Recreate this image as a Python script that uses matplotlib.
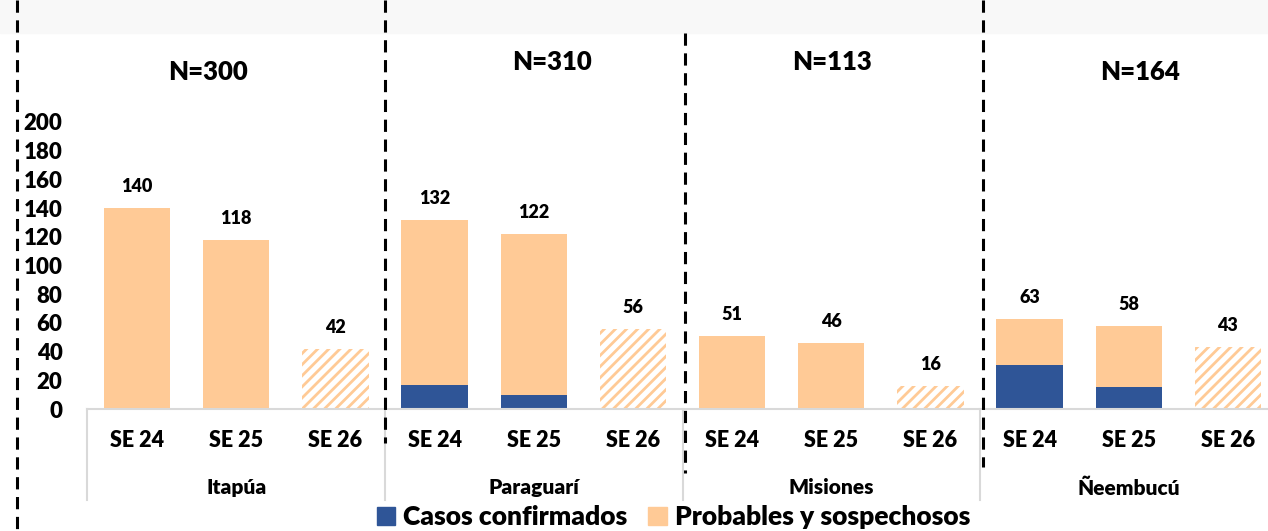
import numpy as np
import matplotlib.pyplot as plt
from matplotlib.patches import Patch, Rectangle
from matplotlib.lines import Line2D

plt.rcParams['font.family'] = ['Lato', 'DejaVu Sans']
plt.rcParams['font.weight'] = 'heavy'
plt.rcParams['hatch.linewidth'] = 2.0

# data
groups = ['Itapúa', 'Paraguarí', 'Misiones', 'Ñeembucú']
weeks = ['SE 24', 'SE 25', 'SE 26']
n_totals = ['N=300', 'N=310', 'N=113', 'N=164']
confirmados = [0, 0, 0, 17, 10, 0, 0, 0, 0, 31, 15, 0]
totales = [140, 118, 42, 132, 122, 56, 51, 46, 16, 63, 58, 43]
parcial = [False, False, True] * 4   # SE 26 aun incompleta (rayado)

c_conf = '#2F5597'
c_prob = '#FFCA96'
fw = 'heavy'

W, H = 1268, 531
fig = plt.figure(figsize=(W / 100, H / 100), dpi=100)

def fx(px):
    return px / W

def fy(py):
    return 1 - py / H

# banda gris clara arriba
fig.add_artist(Rectangle((0, fy(33)), 1, 1 - fy(33), transform=fig.transFigure,
                         color='#f8f8f8', zorder=0))

ax = fig.add_axes([fx(87.5), fy(409), fx(1190), (409 - 122) / H])
ax.set_facecolor('none')

x = np.arange(len(totales))
probables = [t - c for t, c in zip(totales, confirmados)]
for i in x:
    if parcial[i]:
        ax.bar(x[i], totales[i], width=0.67, facecolor='white', edgecolor=c_prob,
               hatch='///', linewidth=0)
    else:
        ax.bar(x[i], confirmados[i], width=0.67, color=c_conf)
        ax.bar(x[i], probables[i], bottom=confirmados[i], width=0.67, color=c_prob)
    ax.annotate(str(totales[i]), (x[i], totales[i]), xytext=(0, 15.5),
                textcoords='offset points', ha='center', va='center',
                fontsize=13, fontweight=fw, annotation_clip=False)

ax.set_xlim(-0.5, len(totales) - 0.5)
ax.set_ylim(0, 200)
ax.set_yticks(range(0, 201, 20))
ax.tick_params(axis='y', length=0, pad=18, labelsize=16)
for lab in ax.get_yticklabels():
    lab.set_fontweight(fw)
ax.set_xticks([])
for s in ['top', 'right', 'left']:
    ax.spines[s].set_visible(False)
ax.spines['bottom'].set_color('#d9d9d9')
ax.spines['bottom'].set_linewidth(1.5)

tr = ax.get_xaxis_transform()
for i in x:
    ax.text(x[i], -0.111, weeks[i % 3], transform=tr, ha='center', va='center',
            fontsize=15.5, fontweight=fw)
for g, name in enumerate(groups):
    ax.text(3 * g + 1, -0.275, name, transform=tr, ha='center', va='center',
            fontsize=15, fontweight=fw)
    ax.plot([3 * g - 0.5] * 2, [0, -0.317], transform=tr, color='#d9d9d9',
            lw=1.5, clip_on=False)

# N por departamento
n_pos = [(208, 72), (552, 62), (832, 62), (1140, 72)]
for (px, py), lab in zip(n_pos, n_totals):
    fig.text(fx(px), fy(py), lab, ha='center', va='center', fontsize=18.5,
             fontweight=fw)

# lineas punteadas de separacion (x, y inicio, y fin en pixeles)
for px, py0, py1 in [(17, 0, 531), (385, 0, 443), (685, 33, 473), (983, 0, 467)]:
    fig.add_artist(Line2D([fx(px), fx(px)], [fy(py0), fy(py1)],
                          transform=fig.transFigure, color='black', lw=2.2,
                          linestyle=(0, (4, 2.5))))

handles = [Patch(color=c_conf, label='Casos confirmados'),
           Patch(color=c_prob, label='Probables y sospechosos')]
fig.legend(handles=handles, loc='center', bbox_to_anchor=(0.531, 0.026), ncol=2,
           frameon=False, prop={'size': 19, 'weight': fw}, handlelength=0.7,
           handleheight=0.7, handletextpad=0.3, columnspacing=0.8, borderpad=0)

fig.savefig('out.png', dpi=100)
